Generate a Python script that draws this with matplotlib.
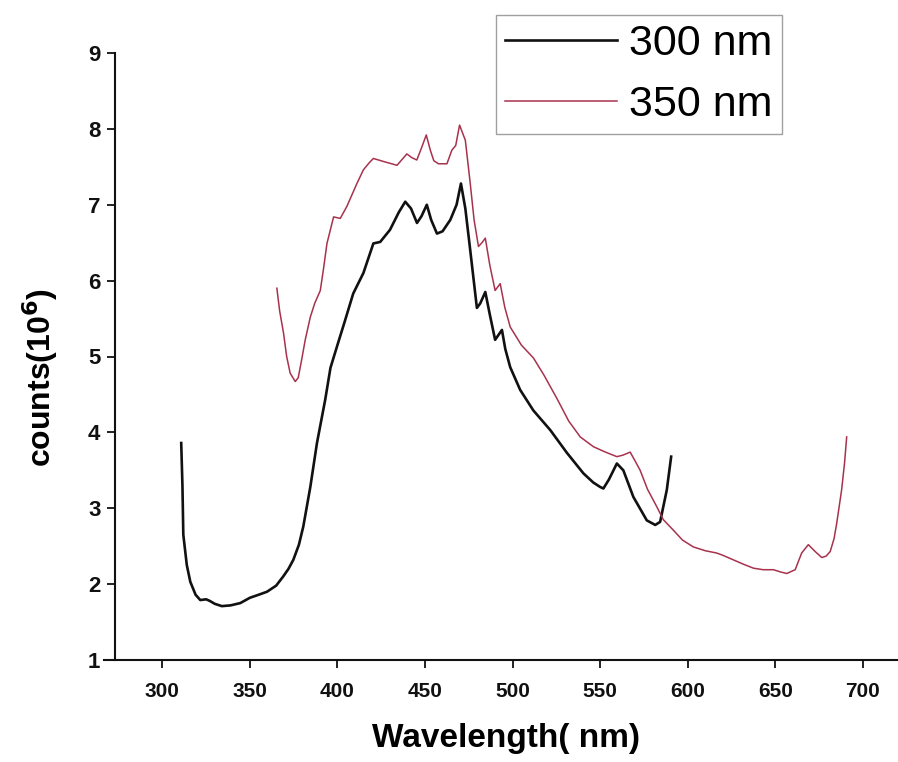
import matplotlib
matplotlib.use("Agg")
import matplotlib.pyplot as plt

plt.rcParams['font.family'] = ['Liberation Sans', 'DejaVu Sans']

# 300 nm excitation spectrum
wl_300 = [310.8, 311.5, 312, 314, 316, 319, 321.7, 325, 327, 330, 334, 339, 344.5, 350, 355,
          359.8, 365, 369, 372, 374.8, 378, 380.5, 384.5, 388.3, 393, 396, 399.7, 404, 409,
          414.8, 420.5, 424.4, 430, 435, 438.7, 442, 445.4, 448, 451, 453.5, 456.8, 460,
          464.4, 468, 470.5, 473, 475.8, 479.6, 481.5, 484.4, 487, 490, 493.9, 495.8, 498.6,
          504.3, 511.8, 521.5, 531, 540.4, 546, 550, 551.8, 555, 559.5, 563.2, 568.9, 576.6,
          581.4, 584.2, 588, 590.5]
cnt_300 = [3.86, 3.3, 2.65, 2.25, 2.03, 1.86, 1.79, 1.80, 1.78, 1.74, 1.71, 1.72, 1.75, 1.82,
           1.86, 1.90, 1.98, 2.10, 2.20, 2.32, 2.52, 2.76, 3.28, 3.86, 4.43, 4.85, 5.13, 5.45,
           5.83, 6.10, 6.49, 6.51, 6.67, 6.90, 7.04, 6.95, 6.76, 6.85, 7.0, 6.80, 6.62, 6.65,
           6.80, 7.0, 7.28, 6.95, 6.40, 5.64, 5.70, 5.85, 5.55, 5.22, 5.35, 5.10, 4.86, 4.56,
           4.29, 4.03, 3.73, 3.46, 3.34, 3.28, 3.26, 3.38, 3.59, 3.50, 3.15, 2.84, 2.78, 2.82,
           3.24, 3.68]

# 350 nm excitation spectrum
wl_350 = [365.4, 367, 369.2, 371, 373, 375.9, 377.6, 379.5, 381.6, 384.5, 387, 390.2, 392, 394,
          397.8, 401.6, 405.4, 411.1, 414.8, 418, 420.5, 426.3, 434, 437, 439.6, 442.5, 445.3,
          448, 450.7, 453, 455, 457.7, 462.5, 465.3, 467.5, 469.7, 473, 475.8, 478, 480.5,
          482.5, 484.4, 487, 490, 492.9, 495.5, 498.6, 505, 511.9, 518, 525.2, 532, 538.6,
          546.2, 553, 559.5, 563, 567.1, 570, 572.8, 577, 582.3, 586, 591.8, 597, 603.2, 610,
          616.5, 620, 626, 632, 637.5, 643, 648.9, 653, 656.5, 661.3, 665, 668.8, 672.7, 676.5,
          679, 681.3, 683.5, 685, 687.8, 689.5, 690.7]
cnt_350 = [5.90, 5.60, 5.31, 5.0, 4.78, 4.67, 4.72, 4.95, 5.22, 5.52, 5.70, 5.87, 6.15, 6.49,
           6.84, 6.82, 6.98, 7.28, 7.46, 7.55, 7.61, 7.57, 7.52, 7.60, 7.67, 7.62, 7.59, 7.75,
           7.92, 7.72, 7.58, 7.54, 7.54, 7.72, 7.78, 8.05, 7.85, 7.28, 6.80, 6.45, 6.50, 6.56,
           6.20, 5.87, 5.96, 5.65, 5.39, 5.15, 4.98, 4.75, 4.45, 4.15, 3.94, 3.81, 3.74, 3.68,
           3.70, 3.74, 3.62, 3.50, 3.25, 3.02, 2.85, 2.71, 2.58, 2.49, 2.44, 2.41, 2.38, 2.32,
           2.26, 2.21, 2.19, 2.19, 2.16, 2.14, 2.19, 2.41, 2.52, 2.43, 2.35, 2.37, 2.43, 2.60,
           2.80, 3.24, 3.60, 3.94]

labels = ["300 nm", "350 nm"]
x_ticks = [300, 350, 400, 450, 500, 550, 600, 650, 700]
y_ticks = [1, 2, 3, 4, 5, 6, 7, 8, 9]

W, H = 898, 762
fig = plt.figure(figsize=(W / 100, H / 100), dpi=100)
ax = fig.add_axes([115 / W, 102 / H, 1 - 115 / W, (660 - 53) / H])

ax.plot(wl_300, cnt_300, color='#111111', lw=1.9, label=labels[0])
ax.plot(wl_350, cnt_350, color='#a8324e', lw=1.1, label=labels[1])

ax.set_xlim(273, 720)
ax.set_ylim(1, 9)
ax.set_xticks(x_ticks)
ax.set_yticks(y_ticks)
ax.spines['top'].set_visible(False)
ax.spines['right'].set_visible(False)
for s in ('left', 'bottom'):
    ax.spines[s].set_linewidth(1.5)
    ax.spines[s].set_color('#111111')
ax.spines['bottom'].set_bounds(266.5, 720)
ax.tick_params(axis='both', direction='out', length=5.5, width=1.3, colors='#111111')
ax.tick_params(axis='x', labelsize=15, pad=10)
ax.tick_params(axis='y', labelsize=16, pad=5)
for t in ax.get_xticklabels() + ax.get_yticklabels():
    t.set_fontweight('bold')

ax.set_xlabel("Wavelength( nm)", fontsize=24, fontweight='bold', labelpad=16)
ax.set_ylabel("counts(10$^{\\mathbf{6}}$)", fontsize=23, fontweight='bold')
ax.yaxis.set_label_coords(-0.07, 0.466)

leg = ax.legend(loc='upper left', bbox_to_anchor=(496 / W, 1 - 15 / H),
                bbox_transform=fig.transFigure, fontsize=31, frameon=True, fancybox=False,
                handlelength=2.6, handletextpad=0.3, borderpad=0.2, labelspacing=0.5,
                borderaxespad=0)
leg.get_frame().set_edgecolor('#888888')
leg.get_frame().set_linewidth(1.0)

fig.savefig("out.png", dpi=100)
